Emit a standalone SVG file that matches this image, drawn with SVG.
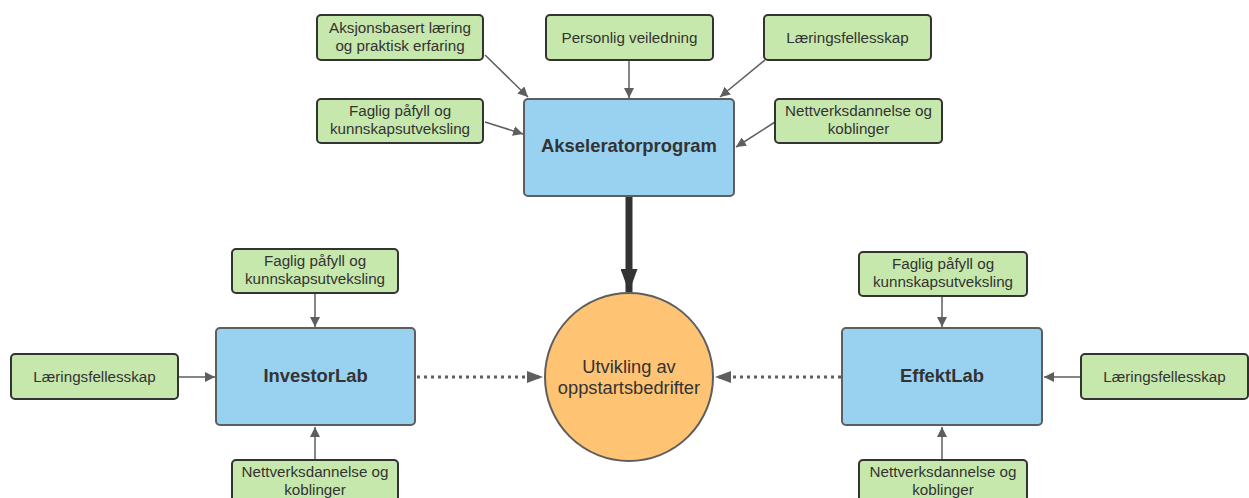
<svg xmlns="http://www.w3.org/2000/svg" width="1249" height="498" viewBox="0 0 1249 498">
<defs>
<style>
.g{fill:#c7e8ac;stroke:#333;stroke-width:2}
.b{fill:#99d1f0;stroke:#5e5e5e;stroke-width:2}
.t{font-family:"Liberation Sans",Arial,sans-serif;font-size:15.2px;fill:#333;text-anchor:middle}
.tb{font-family:"Liberation Sans",Arial,sans-serif;font-size:18.4px;font-weight:bold;fill:#333;text-anchor:middle}
.tc{font-family:"Liberation Sans",Arial,sans-serif;font-size:18.3px;fill:#333;text-anchor:middle}
.c{stroke:#5e5e5e;stroke-width:1.5;fill:none}
.d{stroke:#5e5e5e;stroke-width:3;fill:none;stroke-dasharray:3 4}
</style>
<marker id="a" viewBox="0 0 10 10" refX="10" refY="5" markerWidth="10" markerHeight="10" markerUnits="userSpaceOnUse" orient="auto">
<path d="M0,0 L10,5 L0,10 Z" fill="#5e5e5e"/>
</marker>
<marker id="ad" viewBox="0 0 16 12" refX="16" refY="6" markerWidth="16" markerHeight="12" markerUnits="userSpaceOnUse" orient="auto">
<path d="M0,0 L16,6 L0,12 Z" fill="#5e5e5e"/>
</marker>
<marker id="ab" viewBox="0 0 23 17" refX="23" refY="8.5" markerWidth="23" markerHeight="17" markerUnits="userSpaceOnUse" orient="auto">
<path d="M0,0 L23,8.5 L0,17 Z" fill="#333"/>
</marker>
</defs>
<g id="connectors">
<line class="c" x1="485" y1="55" x2="528" y2="97" marker-end="url(#a)"/>
<line class="c" x1="629" y1="60" x2="629" y2="98" marker-end="url(#a)"/>
<line class="c" x1="765" y1="60" x2="720" y2="97" marker-end="url(#a)"/>
<line class="c" x1="485" y1="122" x2="523" y2="134" marker-end="url(#a)"/>
<line class="c" x1="775" y1="122" x2="736" y2="147" marker-end="url(#a)"/>
<line x1="629" y1="197" x2="629" y2="292" stroke="#333" stroke-width="7" marker-end="url(#ab)"/>
<line class="c" x1="315" y1="293" x2="315" y2="327" marker-end="url(#a)"/>
<line class="c" x1="178" y1="377" x2="215" y2="377" marker-end="url(#a)"/>
<line class="c" x1="315" y1="460" x2="315" y2="427" marker-end="url(#a)"/>
<line class="c" x1="942" y1="296" x2="942" y2="327" marker-end="url(#a)"/>
<line class="c" x1="1081" y1="377" x2="1044" y2="377" marker-end="url(#a)"/>
<line class="c" x1="942" y1="460" x2="942" y2="427" marker-end="url(#a)"/>
<line class="d" x1="417" y1="377" x2="543" y2="377" marker-end="url(#ad)"/>
<line class="d" x1="841" y1="377" x2="715" y2="377" marker-end="url(#ad)"/>
</g>
<g id="n-aksjon"><rect class="g" x="317" y="15" width="166" height="45" rx="4"/><text class="t" x="400" y="33">Aksjonsbasert læring</text><text class="t" x="400" y="51">og praktisk erfaring</text></g>
<g id="n-personlig"><rect class="g" x="546" y="15" width="167" height="45" rx="4"/><text class="t" x="629.5" y="43">Personlig veiledning</text></g>
<g id="n-laering-top"><rect class="g" x="764" y="15" width="167" height="45" rx="4"/><text class="t" x="847.5" y="43">Læringsfellesskap</text></g>
<g id="n-faglig-top"><rect class="g" x="317" y="99" width="166" height="44" rx="4"/><text class="t" x="400" y="116">Faglig påfyll og</text><text class="t" x="400" y="134">kunnskapsutveksling</text></g>
<g id="n-nettverk-top"><rect class="g" x="775" y="99" width="167" height="44" rx="4"/><text class="t" x="858.5" y="116">Nettverksdannelse og</text><text class="t" x="858.5" y="134">koblinger</text></g>
<g id="n-akselerator"><rect class="b" x="524" y="99" width="210" height="97" rx="4"/><text class="tb" x="629" y="152">Akseleratorprogram</text></g>
<g id="n-utvikling"><circle cx="629" cy="377" r="84" fill="#ffc374" stroke="#5e5e5e" stroke-width="2"/><text class="tc" x="629" y="373">Utvikling av</text><text class="tc" x="629" y="394">oppstartsbedrifter</text></g>
<g id="n-investor"><rect class="b" x="216" y="328" width="199" height="97" rx="4"/><text class="tb" x="315.5" y="382">InvestorLab</text></g>
<g id="n-faglig-left"><rect class="g" x="232" y="249" width="166" height="44" rx="4"/><text class="t" x="315" y="266">Faglig påfyll og</text><text class="t" x="315" y="284">kunnskapsutveksling</text></g>
<g id="n-laering-left"><rect class="g" x="11" y="354" width="167" height="45" rx="4"/><text class="t" x="94.5" y="382">Læringsfellesskap</text></g>
<g id="n-nettverk-left"><rect class="g" x="232" y="460" width="166" height="45" rx="4"/><text class="t" x="315" y="477">Nettverksdannelse og</text><text class="t" x="315" y="495">koblinger</text></g>
<g id="n-effekt"><rect class="b" x="842" y="328" width="200" height="97" rx="4"/><text class="tb" x="942" y="382">EffektLab</text></g>
<g id="n-faglig-right"><rect class="g" x="859" y="252" width="168" height="44" rx="4"/><text class="t" x="943" y="269">Faglig påfyll og</text><text class="t" x="943" y="287">kunnskapsutveksling</text></g>
<g id="n-laering-right"><rect class="g" x="1081" y="354" width="167" height="45" rx="4"/><text class="t" x="1164.5" y="382">Læringsfellesskap</text></g>
<g id="n-nettverk-right"><rect class="g" x="859" y="460" width="168" height="45" rx="4"/><text class="t" x="943" y="477">Nettverksdannelse og</text><text class="t" x="943" y="495">koblinger</text></g>
</svg>
